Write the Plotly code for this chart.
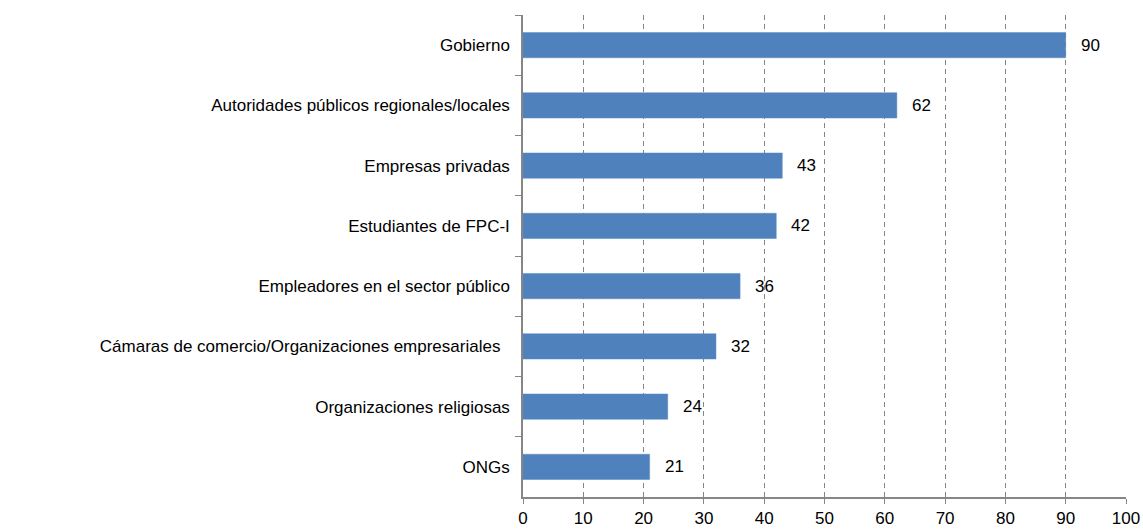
import plotly.graph_objects as go

categories = [
    "Gobierno",
    "Autoridades públicos regionales/locales",
    "Empresas privadas",
    "Estudiantes de FPC-I",
    "Empleadores en el sector público",
    "Cámaras de comercio/Organizaciones empresariales\u00a0\u00a0",
    "Organizaciones religiosas",
    "ONGs",
]
values = [90, 62, 43, 42, 36, 32, 24, 21]
x_ticks = [0, 10, 20, 30, 40, 50, 60, 70, 80, 90, 100]

FONT = "Liberation Sans, Arial, sans-serif"
FS = 17

fig = go.Figure()
fig.add_trace(go.Bar(
    y=categories,
    x=values,
    orientation="h",
    marker=dict(color="#4F81BD", line=dict(color="#5B8BC6", width=0.5)),
    width=0.42,
    hoverinfo="x+y",
))

for c, v in zip(categories, values):
    fig.add_annotation(
        x=v, y=c, text=str(v), showarrow=False,
        xanchor="left", xshift=13, yshift=0,
        font=dict(family=FONT, size=FS, color="#000000"),
    )

fig.update_xaxes(
    range=[0, 100],
    tickvals=x_ticks,
    showgrid=True,
    gridcolor="#868686",
    griddash="5px,4px",
    gridwidth=1.3,
    showline=True,
    linecolor="#868686",
    linewidth=1.5,
    ticks="outside",
    ticklen=5,
    tickcolor="#868686",
    tickfont=dict(family=FONT, size=FS, color="#000000"),
    zeroline=False,
)
fig.update_yaxes(
    autorange="reversed",
    type="category",
    showline=True,
    linecolor="#868686",
    linewidth=1.5,
    ticks="outside",
    tickson="boundaries",
    ticklen=6,
    tickcolor="#868686",
    ticklabelstandoff=8,
    tickfont=dict(family=FONT, size=FS, color="#000000"),
    showgrid=False,
)

fig.update_layout(
    width=1143,
    height=529,
    margin=dict(l=523, r=17, t=15, b=32, autoexpand=False),
    plot_bgcolor="#FFFFFF",
    paper_bgcolor="#FFFFFF",
    showlegend=False,
    font=dict(family=FONT, size=FS, color="#000000"),
)

fig.write_html(
    "out.html",
    config={"displayModeBar": False},
    post_script="document.body.style.margin='0';document.body.style.overflow='hidden';",
)
